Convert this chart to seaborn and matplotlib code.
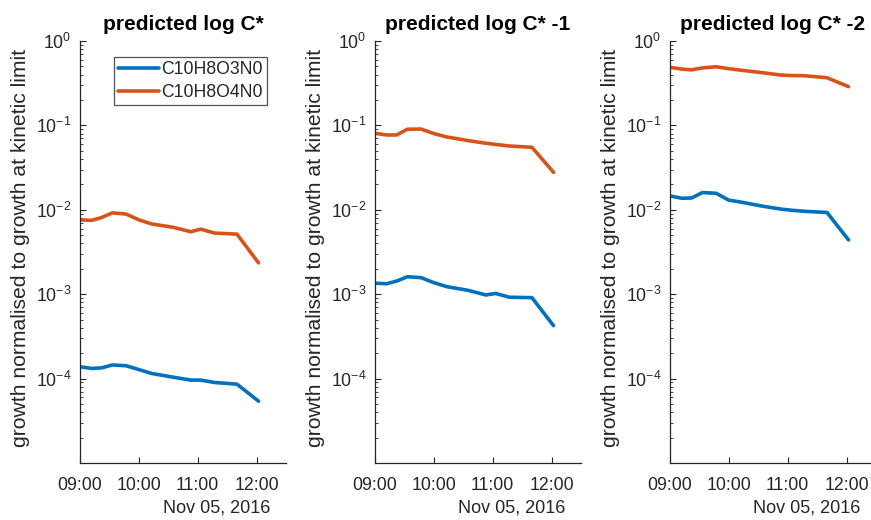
import datetime as dt
import numpy as np
import pandas as pd
import matplotlib
matplotlib.use("Agg")
import matplotlib.pyplot as plt
import matplotlib.dates as mdates
from matplotlib.ticker import LogLocator, NullFormatter, FixedLocator
import seaborn as sns

# ---- data (minutes after 09:00 on Nov 05, 2016) ----
minutes = [0, 12, 22, 33, 47, 60, 73, 95, 113, 123, 137, 160, 182]
titles = ["predicted log C*", "predicted log C* -1", "predicted log C* -2"]
series_names = ["C10H8O3N0", "C10H8O4N0"]

p1_o3 = [1.38e-4, 1.32e-4, 1.34e-4, 1.45e-4, 1.42e-4, 1.28e-4, 1.15e-4, 1.04e-4, 9.6e-5, 9.6e-5, 9.0e-5, 8.6e-5, 5.4e-5]
p1_o4 = [7.6e-3, 7.5e-3, 8.1e-3, 9.2e-3, 8.9e-3, 7.6e-3, 6.8e-3, 6.2e-3, 5.5e-3, 5.9e-3, 5.3e-3, 5.15e-3, 2.35e-3]
p2_o3 = [1.35e-3, 1.33e-3, 1.43e-3, 1.61e-3, 1.57e-3, 1.37e-3, 1.23e-3, 1.11e-3, 9.8e-4, 1.02e-3, 9.2e-4, 9.1e-4, 4.24e-4]
p2_o4 = [8.06e-2, 7.7e-2, 7.7e-2, 9.0e-2, 9.05e-2, 8.0e-2, 7.3e-2, 6.6e-2, 6.15e-2, 5.95e-2, 5.7e-2, 5.5e-2, 2.78e-2]
p3_o3 = [1.46e-2, 1.37e-2, 1.38e-2, 1.6e-2, 1.57e-2, 1.3e-2, 1.23e-2, 1.1e-2, 1.02e-2, 9.9e-3, 9.6e-3, 9.3e-3, 4.4e-3]
p3_o4 = [0.488, 0.465, 0.455, 0.48, 0.495, 0.47, 0.45, 0.42, 0.395, 0.39, 0.388, 0.367, 0.288]

panels = [(p1_o3, p1_o4), (p2_o3, p2_o4), (p3_o3, p3_o4)]

start = dt.datetime(2016, 11, 5, 9, 0)
times = [start + dt.timedelta(minutes=m) for m in minutes]

sns.set_style("ticks")
plt.rcParams["font.family"] = ["Liberation Sans", "DejaVu Sans"]
plt.rcParams["mathtext.default"] = "regular"

colors = {"C10H8O3N0": "#0072BD", "C10H8O4N0": "#D95319"}
txt = "#262626"

fig = plt.figure(figsize=(8.71, 5.2), dpi=100)
lefts = [80, 375, 670]
W, H = 871, 520
for i, (left, title, (s3, s4)) in enumerate(zip(lefts, titles, panels)):
    ax = fig.add_axes([left / W, 1 - 463 / H, 206 / W, (463 - 41) / H])
    df = pd.DataFrame({
        "time": times * 2,
        "value": list(s3) + list(s4),
        "species": [series_names[0]] * len(times) + [series_names[1]] * len(times),
    })
    sns.lineplot(data=df, x="time", y="value", hue="species", palette=colors,
                 linewidth=2.6, ax=ax, legend=(i == 0))
    ax.set_yscale("log")
    ax.set_ylim(1e-5, 1)
    ax.set_xlim(start, start + dt.timedelta(minutes=210))
    ax.yaxis.set_major_locator(FixedLocator([1e-4, 1e-3, 1e-2, 1e-1, 1e0]))
    ax.yaxis.set_minor_locator(LogLocator(base=10, subs=np.arange(2, 10), numticks=20))
    ax.yaxis.set_minor_formatter(NullFormatter())
    ax.xaxis.set_major_locator(mdates.HourLocator())
    ax.xaxis.set_major_formatter(mdates.DateFormatter("%H:%M"))
    for s in ["top", "right"]:
        ax.spines[s].set_visible(False)
    for s in ["left", "bottom"]:
        ax.spines[s].set_color(txt)
        ax.spines[s].set_linewidth(0.9)
    ax.tick_params(axis="both", which="both", direction="in", colors=txt,
                   labelsize=12.8, labelcolor=txt)
    ax.tick_params(axis="both", which="major", length=4)
    ax.tick_params(axis="y", which="minor", length=2)
    ax.tick_params(axis="x", pad=10)
    ax.tick_params(axis="y", pad=6)
    ax.set_xlabel("")
    ax.set_ylabel("growth normalised to growth at kinetic limit", fontsize=15.2, color=txt)
    ax.yaxis.set_label_coords(-0.245, 0.51)
    ax.set_title(title, fontsize=15, fontweight="bold", color="black", pad=8)
    ax.text(0.925, -0.107, "Nov 05, 2016", transform=ax.transAxes, ha="right",
            va="center", fontsize=13, color=txt)
    if i == 0:
        leg = ax.legend(loc="upper right", bbox_to_anchor=(0.91, 0.962), fontsize=12.7,
                        frameon=True, fancybox=False, handlelength=2.3,
                        borderpad=0.25, labelspacing=0.3, handletextpad=0.15,
                        borderaxespad=0.0)
        leg.get_frame().set_edgecolor(txt)
        leg.get_frame().set_linewidth(0.9)
        leg.set_title(None)
        for t in leg.get_texts():
            t.set_color(txt)

fig.savefig("out.png", dpi=100)
